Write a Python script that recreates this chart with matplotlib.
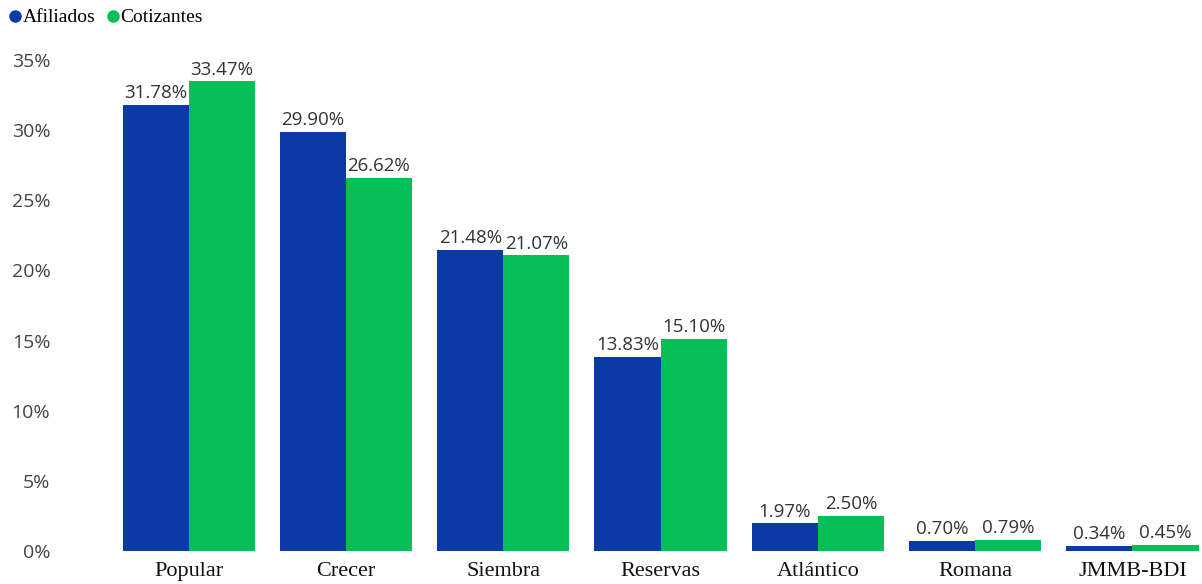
import matplotlib.pyplot as plt
from matplotlib.lines import Line2D
import numpy as np

# data
categories = ["Popular", "Crecer", "Siembra", "Reservas", "Atlántico", "Romana", "JMMB-BDI"]
afiliados = [31.78, 29.90, 21.48, 13.83, 1.97, 0.70, 0.34]
cotizantes = [33.47, 26.62, 21.07, 15.10, 2.50, 0.79, 0.45]
yticks = [0, 5, 10, 15, 20, 25, 30, 35]

blue = "#0a3aa6"
green = "#04c056"
serif = "Liberation Serif"
sans = "Open Sans"

W, H = 1202, 584
fig = plt.figure(figsize=(W / 100, H / 100), dpi=100)
# axes placed in pixels
left, right, bottom, top = 110, 1202, 551, 60
ax = fig.add_axes([left / W, (H - bottom) / H, (right - left) / W, (bottom - top) / H])

x = np.arange(len(categories))
bw = 0.42
b1 = ax.bar(x - bw / 2, afiliados, bw, color=blue, linewidth=0)
b2 = ax.bar(x + bw / 2, cotizantes, bw, color=green, linewidth=0)

for bars, vals in [(b1, afiliados), (b2, cotizantes)]:
    for r, v in zip(bars, vals):
        ax.annotate(f"{v:.2f}%", (r.get_x() + r.get_width() / 2, v),
                    xytext=(0, 2), textcoords="offset points",
                    ha="center", va="bottom", fontsize=13.5,
                    family=sans, color="#333333")

spacing = 157.3
ax.set_xlim(-0.5, -0.5 + (right - left) / spacing)
ax.set_ylim(0, 35)
ax.set_xticks(x)
ax.set_xticklabels(categories, family=serif, fontsize=16, color="#111111")
ax.set_yticks(yticks)
ax.set_yticklabels([f"{t}%" for t in yticks], family=sans, fontsize=14, color="#444444")
ax.tick_params(axis="y", length=0, pad=43)
ax.tick_params(axis="x", length=0, pad=8)
for s in ax.spines.values():
    s.set_visible(False)

handles = [Line2D([], [], marker="o", linestyle="", color=blue, markersize=8),
           Line2D([], [], marker="o", linestyle="", color=green, markersize=8)]
fig.legend(handles, ["Afiliados", "Cotizantes"], loc="upper left",
           bbox_to_anchor=(-0.012, 1.015), ncol=2, frameon=False,
           handletextpad=-0.2, columnspacing=0.3, handlelength=1.2,
           prop={"family": serif, "size": 14})

fig.savefig("out.png", dpi=100)
